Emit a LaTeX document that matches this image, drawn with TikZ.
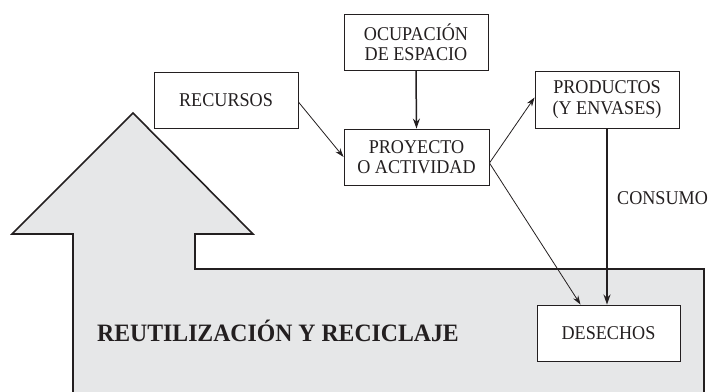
\documentclass[tikz,border=0pt]{standalone}
\usepackage{fontspec}
\setmainfont{Liberation Serif}
\newfontfamily\condfont[FakeStretch=0.93]{Liberation Serif}
\newfontfamily\condbold[FakeStretch=0.95,UprightFont=*-Bold]{Liberation Serif}
\usetikzlibrary{arrows.meta}
\definecolor{ink}{HTML}{231F20}
\definecolor{shade}{HTML}{E6E7E8}
\begin{document}
\begin{tikzpicture}[x=1pt,y=-1pt,
  box/.style={draw=ink,line width=0.9pt,fill=white,minimum width=144pt,minimum height=56pt,
    inner sep=0pt,align=center,font=\condfont\fontsize{19.5}{20.5}\selectfont,text=ink},
  thin/.style={draw=ink,line width=0.8pt,-{Stealth[length=9pt,width=6pt]}},
  thick/.style={draw=ink,line width=1.5pt,-{Stealth[length=10pt,width=7pt]}},
  lbl/.style={font=\condfont\fontsize{19.5}{20.5}\selectfont,text=ink,inner sep=0pt}]
\useasboundingbox (0,0) rectangle (712,391);
\begin{scope}
\clip (0,0) rectangle (712,391);
\draw[ink,line width=1.6pt,fill=shade,line join=miter]
  (133,113) -- (253,234) -- (195,234) -- (195,269) -- (704,269) -- (704,400)
  -- (73,400) -- (73,234) -- (12,234) -- cycle;
\end{scope}
\node[anchor=base west,inner sep=0pt,text=ink,font=\condbold\fontsize{25}{27}\selectfont] (reu) at (97,341) {REUTILIZACIÓN Y RECICLAJE};
\node[box] (recursos) at (226,100) {RECURSOS};
\node[box] (ocupacion) at (416,42) {OCUPACIÓN\\DE ESPACIO};
\node[box,minimum width=145pt] (proyecto) at (416.5,157) {PROYECTO\\O ACTIVIDAD};
\node[box,minimum height=57pt] (productos) at (607,99.5) {PRODUCTOS\\(Y ENVASES)};
\node[box,minimum width=143pt] (desechos) at (608.5,333) {DESECHOS};
\node[lbl,anchor=west] (consumo) at (617,198) {CONSUMO};
\coordinate (pe) at ([yshift=-6pt]proyecto.east);
\draw[thick] (ocupacion.south) -- (proyecto.north);
\draw[thin] ([yshift=-2pt]recursos.east) -- (proyecto.west);
\draw[thin] (pe) -- ([yshift=2pt]productos.west);
\draw[thin] (pe) -- ([xshift=-28pt]desechos.north);
\draw[thick] (productos.south) -- (productos.south |- desechos.north);
\end{tikzpicture}
\end{document}
